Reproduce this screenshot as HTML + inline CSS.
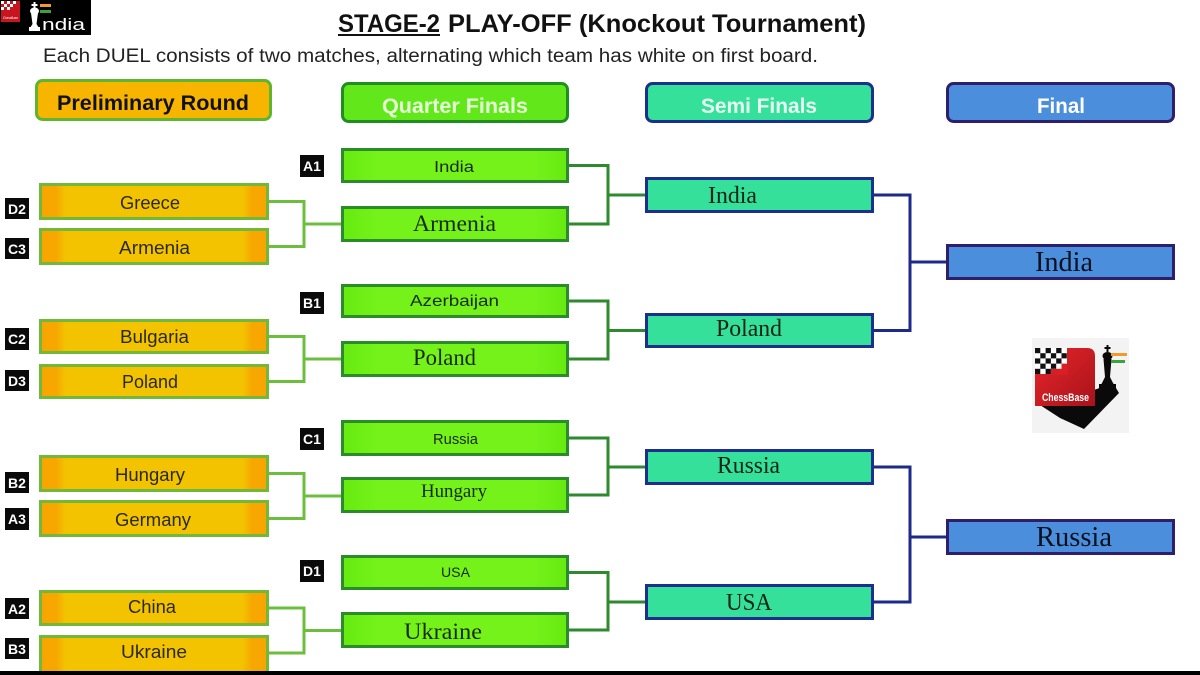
<!DOCTYPE html>
<html>
<head>
<meta charset="utf-8">
<style>
  html,body{margin:0;padding:0;background:#fff;}
  body{width:1200px;height:675px;overflow:hidden;}
  svg{display:block;}
  .s{font-family:"Liberation Sans",sans-serif;}
  .r{font-family:"Liberation Serif",serif;}
</style>
</head>
<body>
<svg width="1200" height="675" viewBox="0 0 1200 675" xmlns="http://www.w3.org/2000/svg">
  <defs>
    <linearGradient id="pg" x1="0" x2="1" y1="0" y2="0">
      <stop offset="0" stop-color="#f7a600"/>
      <stop offset="0.07" stop-color="#f7a800"/>
      <stop offset="0.11" stop-color="#f3c300"/>
      <stop offset="0.89" stop-color="#f3c300"/>
      <stop offset="0.93" stop-color="#f7a800"/>
      <stop offset="1" stop-color="#f7a600"/>
    </linearGradient>
    <linearGradient id="qg" x1="0" x2="1" y1="0" y2="0">
      <stop offset="0" stop-color="#66ea10"/>
      <stop offset="0.15" stop-color="#74f21a"/>
      <stop offset="0.85" stop-color="#74f21a"/>
      <stop offset="1" stop-color="#66ea10"/>
    </linearGradient>
    <linearGradient id="rg" x1="0" x2="1" y1="0" y2="1">
      <stop offset="0" stop-color="#e8262c"/>
      <stop offset="1" stop-color="#a8121a"/>
    </linearGradient>
  </defs>

  <rect x="0" y="0" width="1200" height="675" fill="#ffffff"/>

  <!-- top-left logo -->
  <rect x="0" y="0" width="91" height="35" fill="#000"/>
  <rect x="1" y="1" width="19" height="21" fill="#c8141c"/>
  <g fill="#fff">
    <rect x="1" y="1" width="3" height="3"/><rect x="7" y="1" width="3" height="3"/><rect x="13" y="1" width="3" height="3"/>
    <rect x="4" y="4" width="3" height="3"/><rect x="10" y="4" width="3" height="3"/>
    <rect x="1" y="7" width="3" height="3"/><rect x="7" y="7" width="3" height="3"/>
  </g>
  <text x="3" y="19" class="s" font-size="4" fill="#fff" textLength="15" lengthAdjust="spacingAndGlyphs">ChessBase</text>
  <g fill="#fff">
    <rect x="33.5" y="2" width="2" height="6"/>
    <rect x="31.5" y="4" width="6" height="2"/>
    <ellipse cx="34.5" cy="11" rx="4.5" ry="3.5"/>
    <polygon points="31,13 38,13 36.5,24 39,28 30,28 32.5,24"/>
    <rect x="29" y="27" width="11" height="4"/>
  </g>
  <rect x="40" y="4" width="11" height="3" fill="#f39a2a"/>
  <rect x="40" y="10" width="11" height="3" fill="#3aa33a"/>
  <text x="42" y="30" class="s" font-size="17" fill="#fff" textLength="43" lengthAdjust="spacingAndGlyphs">ndia</text>

  <!-- title -->
  <text x="338" y="32" class="s" font-weight="bold" font-size="25" fill="#111" textLength="102" lengthAdjust="spacingAndGlyphs">STAGE-2</text>
  <rect x="338" y="34" width="102" height="2" fill="#111"/>
  <text x="448" y="32" class="s" font-weight="bold" font-size="25" fill="#111" textLength="418" lengthAdjust="spacingAndGlyphs">PLAY-OFF (Knockout Tournament)</text>
  <text x="43" y="62" class="s" font-size="19" fill="#222" textLength="775" lengthAdjust="spacingAndGlyphs">Each DUEL consists of two matches, alternating which team has white on first board.</text>

  <!-- header boxes -->
  <rect x="36.5" y="80.5" width="234" height="39" rx="6" fill="#f7b500" stroke="#5fb52e" stroke-width="3"/>
  <text x="57" y="110" class="s" font-weight="bold" font-size="21" fill="#111" textLength="192" lengthAdjust="spacingAndGlyphs">Preliminary Round</text>

  <rect x="342.5" y="83.5" width="225" height="38" rx="6" fill="#62e81a" stroke="#1f901f" stroke-width="3"/>
  <text x="382" y="113" class="s" font-weight="bold" font-size="21" fill="#e6ffd8" textLength="146" lengthAdjust="spacingAndGlyphs">Quarter Finals</text>

  <rect x="646.5" y="83.5" width="226" height="38" rx="6" fill="#35e09a" stroke="#1b2f8c" stroke-width="3"/>
  <text x="701" y="113" class="s" font-weight="bold" font-size="21" fill="#e6fff2" textLength="116" lengthAdjust="spacingAndGlyphs">Semi Finals</text>

  <rect x="947.5" y="83.5" width="226" height="38" rx="6" fill="#4b8fdc" stroke="#2e1f6e" stroke-width="3"/>
  <text x="1037" y="113" class="s" font-weight="bold" font-size="21" fill="#ffffff" textLength="48" lengthAdjust="spacingAndGlyphs">Final</text>

  <!-- connectors: prelim -> QF (light green) -->
  <g stroke="#6cbf3c" stroke-width="3" fill="none">
    <polyline points="269,201.5 304,201.5 304,246.5 269,246.5"/>
    <line x1="304" y1="224" x2="341" y2="224"/>
    <polyline points="269,336.5 304,336.5 304,381.5 269,381.5"/>
    <line x1="304" y1="359" x2="341" y2="359"/>
    <polyline points="269,473.5 304,473.5 304,518.5 269,518.5"/>
    <line x1="304" y1="496" x2="341" y2="496"/>
    <polyline points="269,608 304,608 304,653 269,653"/>
    <line x1="304" y1="630.5" x2="341" y2="630.5"/>
  </g>

  <!-- connectors: QF -> SF (dark green) -->
  <g stroke="#2f8a2f" stroke-width="3" fill="none">
    <polyline points="569,165.5 608,165.5 608,224 569,224"/>
    <line x1="608" y1="195" x2="645" y2="195"/>
    <polyline points="569,301 608,301 608,359 569,359"/>
    <line x1="608" y1="330.5" x2="645" y2="330.5"/>
    <polyline points="569,438 608,438 608,495 569,495"/>
    <line x1="608" y1="467" x2="645" y2="467"/>
    <polyline points="569,572.5 608,572.5 608,630 569,630"/>
    <line x1="608" y1="602" x2="645" y2="602"/>
  </g>

  <!-- connectors: SF -> Final (navy) -->
  <g stroke="#1c2a8a" stroke-width="3" fill="none">
    <polyline points="874,195 910,195 910,330.5 874,330.5"/>
    <line x1="910" y1="262" x2="946" y2="262"/>
    <polyline points="874,467 910,467 910,602 874,602"/>
    <line x1="910" y1="537" x2="946" y2="537"/>
  </g>

  <!-- preliminary boxes -->
  <g stroke="#72b83a" stroke-width="3" fill="url(#pg)">
    <rect x="40.5" y="184.5" width="227" height="34"/>
    <rect x="40.5" y="229.5" width="227" height="34"/>
    <rect x="40.5" y="320.5" width="227" height="32"/>
    <rect x="40.5" y="365.5" width="227" height="32"/>
    <rect x="40.5" y="456.5" width="227" height="34"/>
    <rect x="40.5" y="501.5" width="227" height="34"/>
    <rect x="40.5" y="591.5" width="227" height="33"/>
    <rect x="40.5" y="636.5" width="227" height="36"/>
  </g>
  <g class="s" font-size="18" fill="#2a2a1a">
    <text x="120" y="209" textLength="60" lengthAdjust="spacingAndGlyphs">Greece</text>
    <text x="119" y="254" textLength="71" lengthAdjust="spacingAndGlyphs">Armenia</text>
    <text x="120" y="343" textLength="69" lengthAdjust="spacingAndGlyphs">Bulgaria</text>
    <text x="122" y="388" textLength="56" lengthAdjust="spacingAndGlyphs">Poland</text>
    <text x="115" y="481" textLength="70" lengthAdjust="spacingAndGlyphs">Hungary</text>
    <text x="115" y="526" textLength="76" lengthAdjust="spacingAndGlyphs">Germany</text>
    <text x="128" y="613" textLength="48" lengthAdjust="spacingAndGlyphs">China</text>
    <text x="121" y="658" textLength="66" lengthAdjust="spacingAndGlyphs">Ukraine</text>
  </g>

  <!-- QF boxes -->
  <g stroke="#2b8c2b" stroke-width="3" fill="url(#qg)">
    <rect x="342.5" y="149.5" width="225" height="32"/>
    <rect x="342.5" y="207.5" width="225" height="33"/>
    <rect x="342.5" y="285.5" width="225" height="31"/>
    <rect x="342.5" y="342.5" width="225" height="33"/>
    <rect x="342.5" y="421.5" width="225" height="33"/>
    <rect x="342.5" y="478.5" width="225" height="33"/>
    <rect x="342.5" y="556.5" width="225" height="32"/>
    <rect x="342.5" y="613.5" width="225" height="33"/>
  </g>
  <g fill="#1a2a10">
    <text x="434" y="172" class="s" font-size="16" textLength="40" lengthAdjust="spacingAndGlyphs">India</text>
    <text x="413" y="231" class="r" font-size="23" textLength="83" lengthAdjust="spacingAndGlyphs">Armenia</text>
    <text x="410" y="306" class="s" font-size="16" textLength="89" lengthAdjust="spacingAndGlyphs">Azerbaijan</text>
    <text x="413" y="365" class="r" font-size="23" textLength="63" lengthAdjust="spacingAndGlyphs">Poland</text>
    <text x="433" y="444" class="s" font-size="15" textLength="45" lengthAdjust="spacingAndGlyphs">Russia</text>
    <text x="421" y="497" class="r" font-size="19" textLength="66" lengthAdjust="spacingAndGlyphs">Hungary</text>
    <text x="441" y="577" class="s" font-size="14" textLength="29" lengthAdjust="spacingAndGlyphs">USA</text>
    <text x="404" y="639" class="r" font-size="23" textLength="78" lengthAdjust="spacingAndGlyphs">Ukraine</text>
  </g>

  <!-- SF boxes -->
  <g stroke="#1b2f8c" stroke-width="3" fill="#35e09a">
    <rect x="646.5" y="178.5" width="226" height="33"/>
    <rect x="646.5" y="314.5" width="226" height="32"/>
    <rect x="646.5" y="450.5" width="226" height="33"/>
    <rect x="646.5" y="585.5" width="226" height="33"/>
  </g>
  <g class="r" font-size="24" fill="#0e2418">
    <text x="708" y="203" textLength="49" lengthAdjust="spacingAndGlyphs">India</text>
    <text x="716" y="336" textLength="66" lengthAdjust="spacingAndGlyphs">Poland</text>
    <text x="717" y="473" textLength="63" lengthAdjust="spacingAndGlyphs">Russia</text>
    <text x="726" y="610" textLength="46" lengthAdjust="spacingAndGlyphs">USA</text>
  </g>

  <!-- Final boxes -->
  <g stroke="#2e1f6e" stroke-width="3" fill="#4b8fdc">
    <rect x="947.5" y="245.5" width="226" height="33"/>
    <rect x="947.5" y="520.5" width="226" height="33"/>
  </g>
  <g class="r" font-size="28" fill="#0a1020">
    <text x="1035" y="271" textLength="58" lengthAdjust="spacingAndGlyphs">India</text>
    <text x="1036" y="546" textLength="76" lengthAdjust="spacingAndGlyphs">Russia</text>
  </g>

  <!-- seed labels -->
  <g fill="#0a0a0a">
    <rect x="5" y="198" width="24" height="21"/>
    <rect x="5" y="238" width="24" height="21"/>
    <rect x="5" y="328" width="24" height="22"/>
    <rect x="5" y="370" width="24" height="21"/>
    <rect x="5" y="472" width="24" height="21"/>
    <rect x="5" y="508" width="24" height="22"/>
    <rect x="5" y="598" width="24" height="21"/>
    <rect x="5" y="638" width="24" height="21"/>
    <rect x="300" y="155" width="24" height="22"/>
    <rect x="300" y="292" width="24" height="22"/>
    <rect x="300" y="428" width="24" height="22"/>
    <rect x="300" y="560" width="24" height="22"/>
  </g>
  <g class="s" font-weight="bold" font-size="14" fill="#fff" text-anchor="middle">
    <text x="17" y="214">D2</text>
    <text x="17" y="254">C3</text>
    <text x="17" y="344">C2</text>
    <text x="17" y="386">D3</text>
    <text x="17" y="488">B2</text>
    <text x="17" y="524">A3</text>
    <text x="17" y="614">A2</text>
    <text x="17" y="654">B3</text>
    <text x="312" y="171">A1</text>
    <text x="312" y="308">B1</text>
    <text x="312" y="444">C1</text>
    <text x="312" y="576">D1</text>
  </g>

  <!-- ChessBase logo -->
  <rect x="1032" y="338" width="97" height="95" fill="#f3f3f3"/>
  <polygon points="1040,405 1094,405 1094,390 1113,383 1119,393 1084,429 1060,418" fill="#0a0a0a"/>
  <path d="M1035,348 H1087 Q1095,348 1095,356 V406 H1035 Z" fill="url(#rg)"/>
  <rect x="1035" y="348" width="32" height="26" fill="#fff"/>
  <g fill="#111">
    <rect x="1035" y="348" width="5.3" height="5.2"/><rect x="1045.6" y="348" width="5.3" height="5.2"/><rect x="1056.2" y="348" width="5.3" height="5.2"/>
    <rect x="1040.3" y="353.2" width="5.3" height="5.2"/><rect x="1050.9" y="353.2" width="5.3" height="5.2"/><rect x="1061.5" y="353.2" width="5.3" height="5.2"/>
    <rect x="1035" y="358.4" width="5.3" height="5.2"/><rect x="1045.6" y="358.4" width="5.3" height="5.2"/><rect x="1056.2" y="358.4" width="5.3" height="5.2"/>
    <rect x="1040.3" y="363.6" width="5.3" height="5.2"/><rect x="1050.9" y="363.6" width="5.3" height="5.2"/>
    <rect x="1035" y="368.8" width="5.3" height="5.2"/><rect x="1045.6" y="368.8" width="5.3" height="5.2"/>
  </g>
  <rect x="1061.5" y="363.6" width="6" height="11" fill="#d81f26"/>
  <rect x="1051" y="368.8" width="17" height="6" fill="#d81f26"/>
  <text x="1042" y="401" class="s" font-weight="bold" font-size="11" fill="#fff" textLength="47" lengthAdjust="spacingAndGlyphs">ChessBase</text>
  <g fill="#0a0a0a">
    <rect x="1106.5" y="345" width="2" height="7"/>
    <rect x="1104.5" y="347" width="6" height="2"/>
    <ellipse cx="1107.5" cy="356" rx="5" ry="4"/>
    <polygon points="1103.5,359 1111.5,359 1110,377 1114,385 1101,385 1105,377"/>
    <rect x="1099" y="384" width="17" height="5"/>
  </g>
  <rect x="1111" y="353" width="16" height="3" fill="#f39a2a"/>
  <rect x="1111" y="360" width="14" height="3" fill="#3aa33a"/>

  <!-- bottom black bar -->
  <rect x="0" y="671" width="1200" height="4" fill="#000"/>
</svg>
</body>
</html>
